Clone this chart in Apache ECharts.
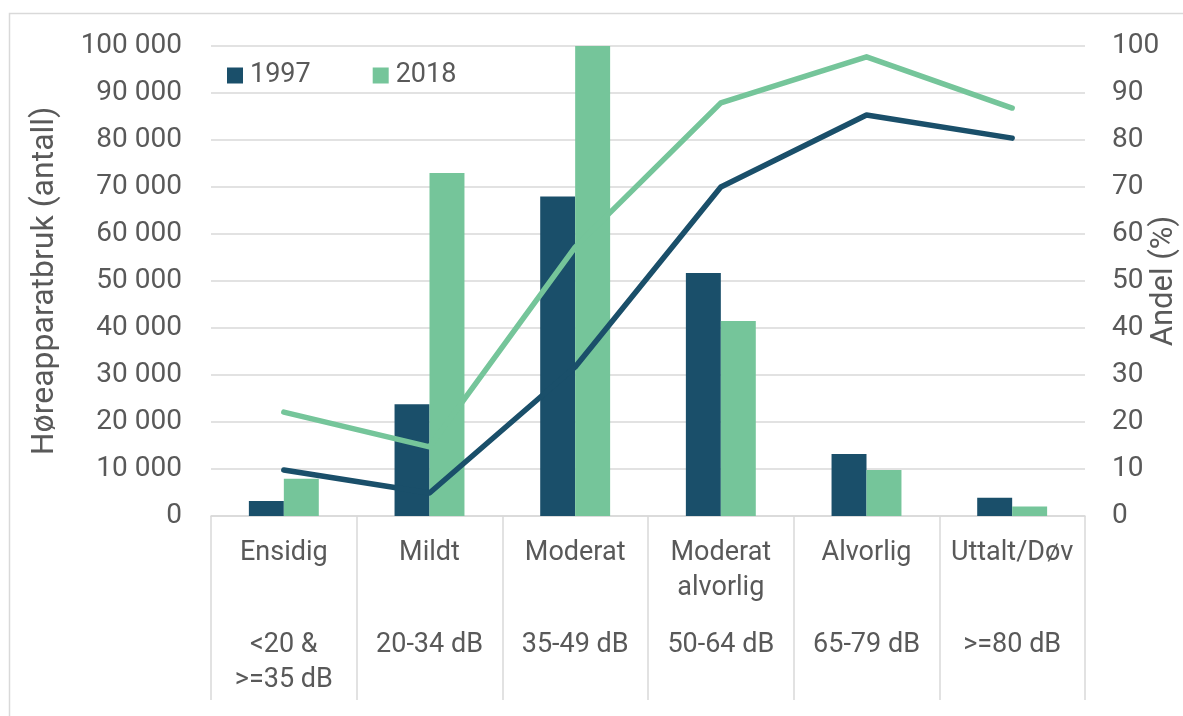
<!DOCTYPE html>
<html>
<head>
<meta charset="utf-8">
<script src="https://cdn.jsdelivr.net/npm/echarts@6/dist/echarts.min.js"></script>
<style>
	html, body { margin: 0; padding: 0; background: #fff; }
	#chart { width: 1183px; height: 716px; }
</style>
</head>
<body>
<div id="chart"></div>
<script>
	// kategorier og verdier lest av figuren
	var categories = ['Ensidig', 'Mildt', 'Moderat', 'Moderat\nalvorlig', 'Alvorlig', 'Uttalt/Døv'];
	var dbLabels = ['<20 &\n>=35 dB', '20-34 dB', '35-49 dB', '50-64 dB', '65-79 dB', '>=80 dB'];
	var antall1997 = [3200, 23800, 68000, 51700, 13200, 3900];
	var antall2018 = [7900, 73000, 100000, 41500, 9800, 2000];
	var andel1997 = [9.8, 4.9, 31.7, 70, 85.3, 80.4];
	var andel2018 = [22.1, 14.7, 57.2, 87.9, 97.7, 86.8];

	var dark = '#1a4f6a';
	var green = '#75c59a';
	var textColor = '#595959';
	var gridColor = '#d9d9d9';
	var font = 'Roboto';

	var myChart = echarts.init(document.getElementById('chart'));
	myChart.setOption({
		animation: false,
		textStyle: { fontFamily: font },
		graphic: [{
			type: 'rect',
			shape: { x: 9.5, y: 13.5, width: 1300, height: 800 },
			style: { fill: 'none', stroke: gridColor, lineWidth: 1.5 },
			silent: true
		}],
		grid: { left: 211, right: 98, top: 46, bottom: 200, outerBoundsMode: 'none' },
		legend: {
			data: ['1997', '2018'],
			left: 222,
			top: 57,
			itemWidth: 16,
			itemHeight: 16,
			itemGap: 62,
			icon: 'rect',
			textStyle: { fontSize: 27, color: textColor, fontFamily: font, padding: [0, 0, 0, 2] }
		},
		xAxis: [
			{
				type: 'category',
				data: categories,
				axisLine: { lineStyle: { color: gridColor, width: 1.5 } },
				axisTick: { show: true, interval: 0, length: 184, lineStyle: { color: gridColor, width: 1.5 } },
				axisLabel: { interval: 0, margin: 20, fontSize: 27, lineHeight: 35, color: textColor }
			},
			{
				type: 'category',
				position: 'bottom',
				data: dbLabels,
				axisLine: { show: false },
				axisTick: { show: false },
				axisLabel: { interval: 0, margin: 112, fontSize: 27, lineHeight: 35, color: textColor }
			}
		],
		yAxis: [
			{
				type: 'value',
				min: 0,
				max: 100000,
				interval: 10000,
				name: 'Høreapparatbruk (antall)',
				nameLocation: 'middle',
				nameRotate: 90,
				nameGap: 150,
				nameMoveOverlap: false,
				nameTextStyle: { fontSize: 32, color: textColor },
				axisLine: { show: false },
				axisTick: { show: false },
				splitLine: { lineStyle: { color: gridColor, width: 1.5 } },
				axisLabel: {
					margin: 29,
					fontSize: 28,
					color: textColor,
					formatter: function (v) {
						return String(v).replace(/\B(?=(\d{3})+(?!\d))/g, ' ');
					}
				}
			},
			{
				type: 'value',
				min: 0,
				max: 100,
				interval: 10,
				name: 'Andel (%)',
				nameLocation: 'middle',
				nameRotate: 90,
				nameGap: 64,
				nameMoveOverlap: false,
				nameTextStyle: { fontSize: 31, color: textColor },
				axisLine: { show: false },
				axisTick: { show: false },
				splitLine: { show: false },
				axisLabel: { margin: 27, fontSize: 28, color: textColor }
			}
		],
		series: [
			{
				name: '1997',
				type: 'bar',
				data: antall1997,
				barGap: 0,
				barCategoryGap: '52%',
				itemStyle: { color: dark }
			},
			{
				name: '2018',
				type: 'bar',
				data: antall2018,
				itemStyle: { color: green }
			},
			{
				name: 'Andel 1997',
				type: 'line',
				yAxisIndex: 1,
				data: andel1997,
				symbol: 'none',
				lineStyle: { color: dark, width: 5.5, cap: 'round', join: 'round' },
				itemStyle: { color: dark }
			},
			{
				name: 'Andel 2018',
				type: 'line',
				yAxisIndex: 1,
				data: andel2018,
				symbol: 'none',
				lineStyle: { color: green, width: 5.5, cap: 'round', join: 'round' },
				itemStyle: { color: green }
			}
		]
	});
</script>
</body>
</html>
